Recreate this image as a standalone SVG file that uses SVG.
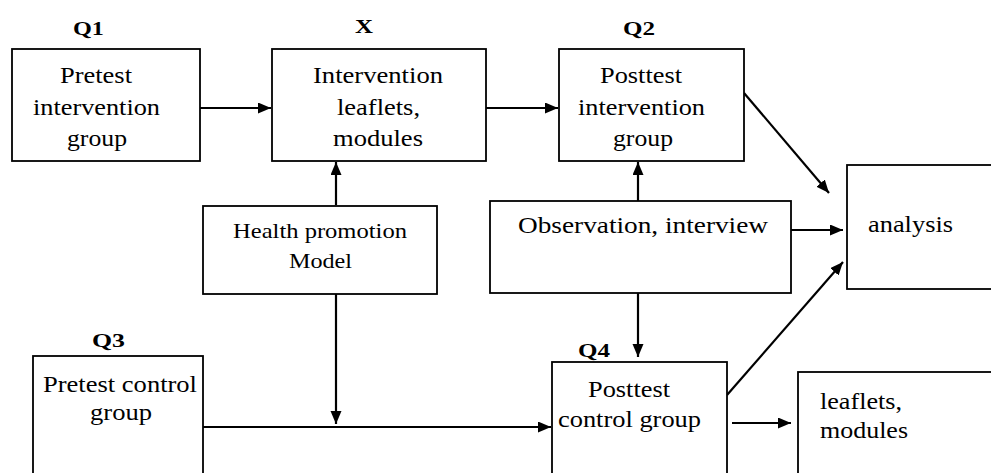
<svg xmlns="http://www.w3.org/2000/svg" width="991" height="473" viewBox="0 0 991 473">
<style>
.box{fill:#fff;stroke:#000;stroke-width:1.8}
.t{font-family:"Liberation Serif","Times New Roman",serif;font-size:23px;fill:#000}
.s{font-size:21px}
.lab{font-family:"Liberation Serif","Times New Roman",serif;font-size:18px;font-weight:bold;fill:#000}
.ln{fill:none;stroke:#000;stroke-width:2.2}
</style>
<defs>
<marker id="ah" markerUnits="userSpaceOnUse" markerWidth="14" markerHeight="12" refX="13" refY="5.5" orient="auto">
<path d="M0,0 L13,5.5 L0,11 z" fill="#000"/>
</marker>
</defs>
<rect width="991" height="473" fill="#fff"/>
<g id="connectors">
<path class="ln" d="M200,108 L271,108" marker-end="url(#ah)"/>
<path class="ln" d="M486,108 L558,108" marker-end="url(#ah)"/>
<path class="ln" d="M336,205 L336,162" marker-end="url(#ah)"/>
<path class="ln" d="M638,201 L638,162" marker-end="url(#ah)"/>
<path class="ln" d="M744,93 L829,193" marker-end="url(#ah)"/>
<path class="ln" d="M791,230 L843,230" marker-end="url(#ah)"/>
<path class="ln" d="M336,294 L336,424" marker-end="url(#ah)"/>
<path class="ln" d="M203,427 L551,427" marker-end="url(#ah)"/>
<path class="ln" d="M638,290 L638,357" marker-end="url(#ah)"/>
<path class="ln" d="M727,395 L843,262" marker-end="url(#ah)"/>
<path class="ln" d="M732,423 L791,423" marker-end="url(#ah)"/>
</g>
<g id="q1">
<text class="lab" x="73" y="35" textLength="31" lengthAdjust="spacingAndGlyphs">Q1</text>
<rect class="box" x="12" y="49" width="188" height="112"/>
<text class="t" x="60" y="83" textLength="72" lengthAdjust="spacingAndGlyphs">Pretest</text>
<text class="t" x="33" y="115" textLength="127" lengthAdjust="spacingAndGlyphs">intervention</text>
<text class="t" x="67" y="146" textLength="60" lengthAdjust="spacingAndGlyphs">group</text>
</g>
<g id="x">
<text class="lab" x="355" y="33" textLength="18" lengthAdjust="spacingAndGlyphs" style="font-size:19px">X</text>
<rect class="box" x="272" y="49" width="214" height="112"/>
<text class="t" x="313" y="83" textLength="130" lengthAdjust="spacingAndGlyphs">Intervention</text>
<text class="t" x="337" y="115" textLength="83" lengthAdjust="spacingAndGlyphs">leaflets,</text>
<text class="t" x="333" y="146" textLength="90" lengthAdjust="spacingAndGlyphs">modules</text>
</g>
<g id="q2">
<text class="lab" x="623" y="35" textLength="32" lengthAdjust="spacingAndGlyphs">Q2</text>
<rect class="box" x="559" y="49" width="185" height="112"/>
<text class="t" x="600" y="83" textLength="82" lengthAdjust="spacingAndGlyphs">Posttest</text>
<text class="t" x="578" y="115" textLength="127" lengthAdjust="spacingAndGlyphs">intervention</text>
<text class="t" x="613" y="146" textLength="60" lengthAdjust="spacingAndGlyphs">group</text>
</g>
<g id="health">
<rect class="box" x="203" y="206" width="234" height="88"/>
<text class="t s" x="233" y="238" textLength="174" lengthAdjust="spacingAndGlyphs">Health  promotion</text>
<text class="t s" x="289" y="268" textLength="63" lengthAdjust="spacingAndGlyphs">Model</text>
</g>
<g id="observation">
<rect class="box" x="490" y="201" width="301" height="92"/>
<text class="t" x="518" y="233" textLength="250" lengthAdjust="spacingAndGlyphs">Observation, interview</text>
</g>
<g id="analysis">
<rect class="box" x="847" y="165" width="160" height="124"/>
<text class="t" x="868" y="232" textLength="85" lengthAdjust="spacingAndGlyphs">analysis</text>
</g>
<g id="q3">
<text class="lab" x="92" y="347" textLength="33" lengthAdjust="spacingAndGlyphs">Q3</text>
<rect class="box" x="33" y="356" width="170" height="130"/>
<text class="t" x="43" y="392" textLength="154" lengthAdjust="spacingAndGlyphs">Pretest control</text>
<text class="t" x="90" y="420" textLength="62" lengthAdjust="spacingAndGlyphs">group</text>
</g>
<g id="q4">
<text class="lab" x="578" y="357" textLength="32" lengthAdjust="spacingAndGlyphs">Q4</text>
<rect class="box" x="552" y="362" width="175" height="130"/>
<text class="t" x="588" y="397" textLength="82" lengthAdjust="spacingAndGlyphs">Posttest</text>
<text class="t" x="558" y="427" textLength="143" lengthAdjust="spacingAndGlyphs">control group</text>
</g>
<g id="leaflets">
<rect class="box" x="798" y="372" width="210" height="120"/>
<text class="t" x="820" y="409" textLength="82" lengthAdjust="spacingAndGlyphs">leaflets,</text>
<text class="t" x="820" y="438" textLength="88" lengthAdjust="spacingAndGlyphs">modules</text>
</g>
</svg>
